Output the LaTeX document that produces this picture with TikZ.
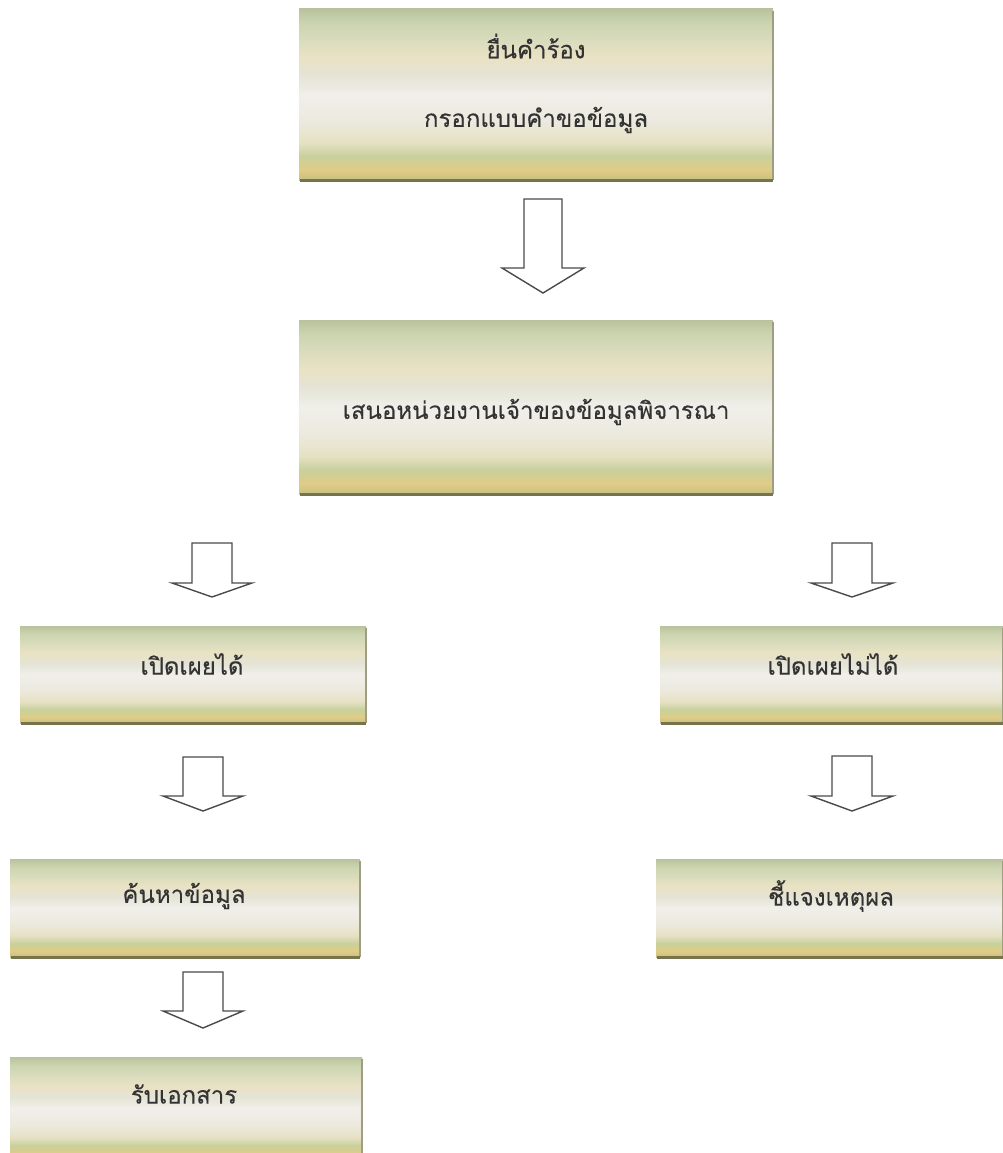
\documentclass[tikz,border=0pt]{standalone}
\usepackage{fontspec}
\newfontfamily\thaifont[Script=Thai,FakeBold=0.25]{Loma}
\definecolor{s0}{HTML}{C8C082}
\definecolor{s1}{HTML}{E0CC86}
\definecolor{s2}{HTML}{C8D09C}
\definecolor{s3}{HTML}{E6E1C4}
\definecolor{s4}{HTML}{ECEADF}
\definecolor{s5}{HTML}{F0EFEA}
\definecolor{s6}{HTML}{E4E3D4}
\definecolor{s7}{HTML}{EAE2C4}
\definecolor{s8}{HTML}{D9DCBD}
\definecolor{s9}{HTML}{CBD4AF}
\definecolor{s10}{HTML}{B8C39D}
\definecolor{shadowc}{HTML}{76744C}
\definecolor{txt}{HTML}{333333}
\definecolor{arrowc}{HTML}{4A4A4A}
\pgfdeclareverticalshading{boxfill}{100bp}{color(0bp)=(s0); color(25bp)=(s0); color(28bp)=(s1); color(32bp)=(s2); color(36bp)=(s3); color(42.5bp)=(s4); color(50bp)=(s5); color(56bp)=(s6); color(61bp)=(s7); color(66bp)=(s8); color(71bp)=(s9); color(75bp)=(s10); color(100bp)=(s10)}
\tikzset{
  flowbox/.style={shading=boxfill, draw=none},
  boxshadow/.style={draw=shadowc, line width=3pt},
  boxside/.style={draw=shadowc!70, line width=1.5pt},
  lbl/.style={font=\thaifont\fontsize{24}{28}\selectfont, text=txt, inner sep=0pt},
  blockarrow/.style={draw=arrowc, fill=white, line width=1.4pt, line join=miter}
}
% box: name, x1, y1, x2, y2
\newcommand{\flowrect}[5]{%
  \path[flowbox] (#2,#3) rectangle (#4,#5);
  \coordinate (#1-nw) at (#2,#3);
  \coordinate (#1-se) at (#4,#5);
  \draw[boxside] (#4,#3+2) -- (#4,#5);
  \draw[boxshadow] (#2+1,#5) -- (#4,#5);
}
% arrow: name, cx, top, headstart, tip, shafthalf, headhalf
\newcommand{\flowarrow}[7]{%
  \coordinate (#1) at (#2,#4);
  \draw[blockarrow] (#2-#6,#3) -- (#2+#6,#3) -- (#2+#6,#4) -- (#2+#7,#4) -- (#2,#5) -- (#2-#7,#4) -- (#2-#6,#4) -- cycle;
}
\begin{document}
\begin{tikzpicture}[x=1pt,y=-1pt]
\useasboundingbox (0,0) rectangle (1003,1153);
\fill[white] (0,0) rectangle (1003,1153);

\flowrect{A}{299}{9}{773}{180}
\node[lbl] (a1) at (536,46) {ยื่นคำร้อง};
\node[lbl] (a2) at (536,120) {กรอกแบบคำขอข้อมูล};

\flowarrow{arA}{543}{199}{268}{293}{19}{41}

\flowrect{B}{299}{320}{773}{494}
\node[lbl] (b) at (536,412) {เสนอหน่วยงานเจ้าของข้อมูลพิจารณา};

\flowarrow{arL1}{212}{543}{583}{597}{20}{40}
\flowarrow{arR1}{852}{543}{583}{597}{20}{41}

\flowrect{C}{20}{626}{366}{723}
\node[lbl] (c) at (192,664) {เปิดเผยได้};
\flowrect{D}{660}{626}{1003}{723}
\node[lbl] (d) at (833,664) {เปิดเผยไม่ได้};

\flowarrow{arL2}{203}{757}{796}{811}{20}{40}
\flowarrow{arR2}{852}{756}{796}{811}{20}{41}

\flowrect{E}{10}{859}{360}{957}
\node[lbl] (e) at (184,896) {ค้นหาข้อมูล};
\flowrect{F}{656}{859}{1003}{957}
\node[lbl] (f) at (831,896) {ชี้แจงเหตุผล};

\flowarrow{arL3}{203}{972}{1011}{1028}{20}{40}

\flowrect{G}{10}{1057}{362}{1160}
\node[lbl] (g) at (184,1094) {รับเอกสาร};
\end{tikzpicture}
\end{document}
